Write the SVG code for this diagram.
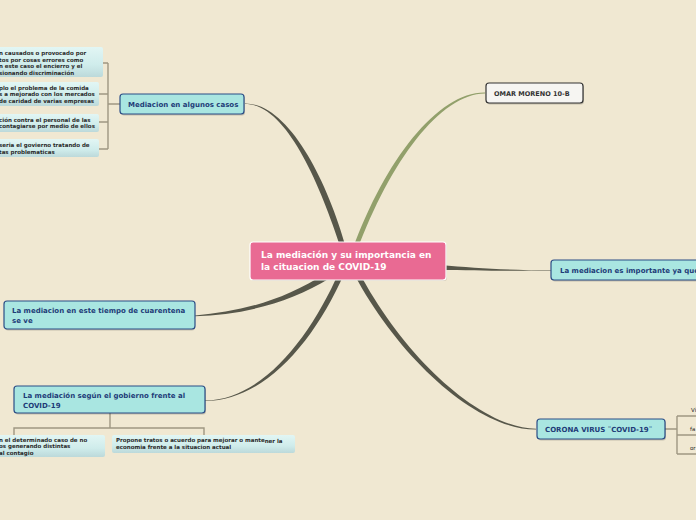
<svg xmlns="http://www.w3.org/2000/svg" width="696" height="520" viewBox="0 0 696 520">
<defs>
<linearGradient id="leafG" x1="0" y1="0" x2="0" y2="1">
<stop offset="0" stop-color="#e2f6f4"/>
<stop offset="0.6" stop-color="#cfeceb"/>
<stop offset="1" stop-color="#bcd9da"/>
</linearGradient>
<style>
.bg{fill:#f0e8d2}
.topic{fill:#a9e6e1;stroke:#2b4d86;stroke-width:1.2}
.shadow{fill:#000;opacity:0.18}
.ttxt{font-family:"DejaVu Sans",Verdana,sans-serif;font-weight:bold;font-size:7px;fill:#1e3c78}
.leaf{fill:url(#leafG)}
.ltxt{font-family:"DejaVu Sans",Verdana,sans-serif;font-weight:bold;font-size:5.5px;fill:#2a2a2a}
.br{fill:none;stroke:#9e9782;stroke-width:1.4}
.branch{fill:#57574a}
.green{fill:#92a06b}
</style>
</defs>
<rect class="bg" x="0" y="0" width="696" height="520"/>

<g id="connectors">
<path class="branch" d="M245,104 C285,104 318,178 341.5,250 L346.5,249 C326,176 287,103 245,103.4 Z"/>
<path class="green" d="M485,92.6 C438,92 385,160 352.5,250 L357,251 C390,162 440,94 485,93.6 Z"/>
<path class="branch" d="M551,270.5 C505,270 475,268 440,265 L440,270 C475,270.5 505,271 551,270.9 Z"/>
<path class="branch" d="M195,315.5 C240,312 285,300 326,273 L330,278 C290,303 242,315 195,316.3 Z"/>
<path class="branch" d="M205,400.5 C262,400 310,338 339,272 L344,274 C314,342 264,401 205,400.9 Z"/>
<path class="branch" d="M536,429.5 C478,430 400,360 354,274 L359,272 C403,356 480,428 536,428.8 Z"/>
<path class="br" d="M120,104 H108 M108,63 V149 M108,63 H103 M108,94 H99 M108,122 H99 M108,149 H99"/>
<path class="br" d="M110,413 V428 M14,435 V428 H204 V435"/>
<path class="br" d="M665,429 H677 M677,416 V454 M677,416 H696 M677,435 H696 M677,454 H696"/>
</g>

<g id="center">
<rect x="251" y="243" width="196" height="38" rx="3" fill="#000" opacity="0.12"/>
<rect x="250" y="242" width="196" height="38" rx="3" fill="#e96a93" stroke="#ffffff" stroke-width="1.2"/>
<text font-family="DejaVu Sans,Verdana,sans-serif" font-weight="bold" font-size="9px" fill="#ffffff"><tspan x="261" y="258">La mediación y su importancia en</tspan><tspan x="261" y="270">la cituacion de COVID-19</tspan></text>
</g>

<g id="mediacion-casos">
<rect class="shadow" x="121" y="95.5" width="124" height="20" rx="3"/>
<rect class="topic" x="120" y="94" width="124" height="20" rx="3"/>
<text class="ttxt" x="128" y="107">Mediacion en algunos casos</text>
</g>

<g id="leaf-1">
<rect class="leaf" x="-5" y="47" width="108" height="30" rx="2"/>
<text class="ltxt"><tspan x="-1" y="55">n causados o provocado por</tspan><tspan x="-1" y="61.5">tos por cosas errores como</tspan><tspan x="-1" y="68">n este caso el encierro y el</tspan><tspan x="-1" y="74.5">sionando discriminación</tspan></text>
</g>
<g id="leaf-2">
<rect class="leaf" x="-5" y="82" width="104" height="24" rx="2"/>
<text class="ltxt"><tspan x="-1" y="89.5">plo el problema de la comida</tspan><tspan x="-1" y="96">s a mejorado con los mercados</tspan><tspan x="-1" y="102.5">de caridad de varias empresas</tspan></text>
</g>
<g id="leaf-3">
<rect class="leaf" x="-5" y="114" width="104" height="18" rx="2"/>
<text class="ltxt"><tspan x="-1" y="121.5">ción contra el personal de las</tspan><tspan x="-1" y="128">contagiarse por medio de ellos</tspan></text>
</g>
<g id="leaf-4">
<rect class="leaf" x="-5" y="139" width="104" height="18" rx="2"/>
<text class="ltxt"><tspan x="-1" y="147">seria el govierno tratando de</tspan><tspan x="-1" y="153.5">tas problematicas</tspan></text>
</g>

<g id="omar">
<rect class="shadow" x="487" y="84.5" width="97" height="20" rx="3"/>
<rect x="486" y="83" width="97" height="20" rx="3" fill="#f6f5f2" stroke="#333333" stroke-width="1.2"/>
<text class="ttxt" x="494" y="96" style="fill:#333333;font-size:6.5px">OMAR MORENO 10-B</text>
</g>

<g id="importante">
<rect class="shadow" x="552" y="261.5" width="150" height="20" rx="3"/>
<rect class="topic" x="551" y="260" width="150" height="20" rx="3"/>
<text class="ttxt" x="560" y="273">La mediacion es importante ya que</text>
</g>

<g id="cuarentena">
<rect class="shadow" x="5" y="302.5" width="190" height="28" rx="3"/>
<rect class="topic" x="4" y="301" width="191" height="28" rx="3"/>
<text class="ttxt"><tspan x="12" y="313">La mediacion en este tiempo de cuarentena</tspan><tspan x="12" y="323">se ve</tspan></text>
</g>

<g id="gobierno">
<rect class="shadow" x="15" y="387.5" width="191" height="27" rx="3"/>
<rect class="topic" x="14" y="386" width="191" height="27" rx="3"/>
<text class="ttxt"><tspan x="23" y="398">La mediación según el gobierno frente al</tspan><tspan x="23" y="407.5">COVID-19</tspan></text>
</g>

<g id="leaf-5">
<rect class="leaf" x="-5" y="435" width="110" height="22" rx="2"/>
<text class="ltxt"><tspan x="-1" y="441.5">n el determinado caso de no</tspan><tspan x="-1" y="448">os generando distintas</tspan><tspan x="-1" y="454.5">al contagio</tspan></text>
</g>
<g id="leaf-6">
<rect class="leaf" x="112" y="435" width="183" height="18" rx="2"/>
<text class="ltxt"><tspan x="116" y="441.5">Propone tratos o acuerdo para mejorar o mante<tspan dy="1">ner la</tspan></tspan><tspan x="116" y="448.5">economia frente a la situacion actual</tspan></text>
</g>

<g id="corona">
<rect class="shadow" x="538" y="420.5" width="128" height="20" rx="3"/>
<rect class="topic" x="537" y="419" width="128" height="20" rx="3"/>
<text class="ttxt" x="545" y="432">CORONA VIRUS ¨COVID-19¨</text>
</g>

<g id="leaf-vi"><text class="ltxt" style="font-weight:normal" x="691" y="412">Vi</text></g>
<g id="leaf-fa"><text class="ltxt" style="font-weight:normal" x="690" y="431">fa</text></g>
<g id="leaf-or"><text class="ltxt" style="font-weight:normal" x="690" y="450">or</text></g>
</svg>
